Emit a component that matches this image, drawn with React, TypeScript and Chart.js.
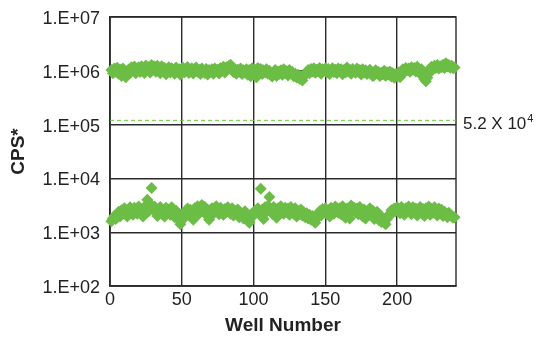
import React, { useEffect, useRef } from 'react';
import { Chart, registerables } from 'chart.js';

Chart.register(...registerables);

// Upper population (CPS), wells 1..240
const highCps = [
  1.04e6, 0.90e6, 1.10e6, 0.96e6, 1.14e6, 0.88e6, 1.06e6, 0.80e6, 1.10e6, 0.86e6,
  0.76e6, 0.88e6, 1.06e6, 0.92e6, 1.16e6, 1.00e6, 1.20e6, 0.90e6, 1.10e6, 1.17e6,
  0.95e6, 1.22e6, 1.04e6, 0.91e6, 1.26e6, 1.08e6, 1.17e6, 0.93e6, 1.28e6, 1.05e6,
  1.20e6, 0.96e6, 1.24e6, 1.10e6, 0.90e6, 1.21e6, 1.00e6, 1.13e6, 0.86e6, 1.08e6,
  1.17e6, 0.93e6, 1.12e6, 1.02e6, 0.88e6, 1.15e6, 0.98e6, 1.07e6, 0.84e6, 1.10e6,
  1.13e6, 0.94e6, 1.08e6, 1.18e6, 0.91e6, 1.04e6, 1.12e6, 0.89e6, 1.07e6, 1.15e6,
  0.96e6, 1.05e6, 0.87e6, 1.10e6, 1.00e6, 0.91e6, 1.08e6, 0.85e6, 1.04e6, 0.95e6,
  1.07e6, 0.88e6, 1.10e6, 0.98e6, 1.05e6, 0.89e6, 1.13e6, 1.00e6, 1.19e6, 0.93e6,
  1.16e6, 1.07e6, 1.24e6, 1.30e6, 1.13e6, 0.95e6, 1.08e6, 0.88e6, 1.05e6, 0.96e6,
  1.10e6, 0.87e6, 1.02e6, 0.93e6, 1.07e6, 0.84e6, 1.03e6, 0.79e6, 1.12e6, 0.95e6,
  1.05e6, 0.76e6, 1.13e6, 0.98e6, 1.08e6, 0.87e6, 1.02e6, 0.93e6, 1.07e6, 0.88e6,
  1.00e6, 0.83e6, 0.78e6, 0.92e6, 1.04e6, 0.80e6, 0.97e6, 0.88e6, 1.02e6, 0.84e6,
  1.07e6, 0.91e6, 0.98e6, 0.82e6, 1.04e6, 0.90e6, 0.95e6, 0.79e6, 0.88e6, 0.75e6,
  0.84e6, 0.71e6, 0.80e6, 0.66e6, 0.78e6, 0.86e6, 0.94e6, 1.04e6, 0.90e6, 1.08e6,
  0.97e6, 1.12e6, 0.92e6, 1.05e6, 0.98e6, 1.13e6, 0.88e6, 1.07e6, 1.00e6, 1.10e6,
  0.93e6, 1.08e6, 0.87e6, 1.04e6, 1.12e6, 0.95e6, 1.05e6, 0.90e6, 1.10e6, 0.98e6,
  1.07e6, 0.86e6, 1.04e6, 0.93e6, 1.15e6, 0.97e6, 1.05e6, 0.88e6, 1.08e6, 1.00e6,
  0.92e6, 1.10e6, 0.95e6, 1.04e6, 0.85e6, 1.07e6, 0.93e6, 1.02e6, 0.87e6, 0.97e6,
  1.05e6, 0.88e6, 0.80e6, 0.83e6, 1.02e6, 0.90e6, 0.95e6, 0.80e6, 0.92e6, 0.86e6,
  1.00e6, 0.81e6, 0.94e6, 0.85e6, 0.97e6, 0.78e6, 0.90e6, 0.74e6, 0.86e6, 0.81e6,
  0.93e6, 0.76e6, 0.98e6, 1.07e6, 0.94e6, 1.13e6, 1.02e6, 1.10e6, 0.96e6, 1.16e6,
  1.05e6, 1.13e6, 0.97e6, 1.19e6, 1.08e6, 0.88e6, 1.07e6, 0.78e6, 0.70e6, 0.64e6,
  0.74e6, 0.88e6, 1.10e6, 1.19e6, 1.07e6, 1.24e6, 1.13e6, 1.28e6, 1.10e6, 1.22e6,
  1.16e6, 1.30e6, 1.13e6, 1.38e6, 1.21e6, 1.28e6, 1.14e6, 1.24e6, 1.11e6, 1.15e6,
];

// Lower population (CPS), wells 1..240
const lowCps = [
  1600, 1800, 2000, 1750, 2150, 2400, 1950, 2550, 2200, 2800,
  2300, 1950, 2650, 2900, 2350, 2100, 2850, 2500, 2200, 3000,
  2650, 2350, 1950, 2900, 3150, 4000, 2450, 3350, 6600, 2700,
  3000, 2350, 2000, 2700, 2950, 2200, 2550, 1950, 2850, 2400,
  2650, 2100, 2900, 2350, 1900, 2500, 1800, 2200, 1400, 2000,
  2250, 1850, 2450, 2750, 2100, 2600, 2300, 1700, 2800, 2500,
  3050, 2200, 2750, 3200, 2450, 2950, 2100, 2600, 1700, 2350,
  2800, 2200, 2650, 3050, 2450, 2150, 2850, 2550, 2100, 2700,
  2350, 2900, 2550, 2200, 2800, 2050, 2500, 2150, 2650, 1900,
  2300, 2100, 1800, 2450, 2000, 1750, 1500, 1900, 2200, 2050,
  2500, 2300, 2800, 2150, 6400, 2650, 1750, 2900, 2400, 3100,
  4500, 2650, 2200, 2950, 2500, 1850, 2800, 2350, 3050, 2550,
  2200, 2850, 2400, 2750, 2100, 2950, 2500, 2200, 2800, 1950,
  2450, 2150, 2650, 2050, 2350, 1900, 2250, 1800, 2100, 1700,
  2000, 1600, 1500, 1850, 2200, 2450, 2050, 2700, 2300, 2800,
  2200, 2550, 1950, 2850, 2400, 2200, 3000, 2600, 2300, 2800,
  2150, 3050, 2500, 1850, 2750, 2300, 1800, 3150, 2550, 2850,
  2350, 2750, 2150, 2950, 2500, 1950, 2650, 1800, 2400, 2200,
  2800, 2050, 2500, 1750, 2200, 2400, 1700, 2000, 1550, 1850,
  1500, 1400, 1750, 2000, 2200, 2550, 2300, 2750, 2450, 2900,
  2600, 2250, 2950, 2650, 2100, 2800, 2450, 3000, 2600, 2150,
  2900, 2400, 2750, 2050, 2550, 2950, 2300, 2700, 2000, 2800,
  2450, 3000, 2100, 2700, 2300, 2900, 2500, 2050, 2750, 2250,
  2600, 2000, 2400, 2200, 1900, 2300, 2100, 1950, 1850, 1900,
];

const thresholdCps = 1.2e5;
const thresholdLabel = '5.2 X 10';
const thresholdExp = '4';

const xTicks = [0, 50, 100, 150, 200];
const yTicks = [1e2, 1e3, 1e4, 1e5, 1e6, 1e7];
const yTickLabels = ['1.E+02', '1.E+03', '1.E+04', '1.E+05', '1.E+06', '1.E+07'];
const xTitle = 'Well Number';
const yTitle = 'CPS*';

const FONT = '"Liberation Sans", Arial, Helvetica, sans-serif';
const GREEN = '#6cbd45';
const DASH_GREEN = '#66cc33';
const GRID = '#2a2a2a';
const TEXT = '#222222';

const framePlugin = {
  id: 'frameAndLabel',
  beforeDatasetsDraw(chart: any) {
    const { ctx, chartArea: a } = chart;
    ctx.save();
    ctx.strokeStyle = GRID;
    ctx.lineWidth = 1.4;
    ctx.strokeRect(a.left, a.top, a.right - a.left, a.bottom - a.top);
    ctx.restore();
  },
  afterDraw(chart: any) {
    const { ctx, chartArea: a, scales } = chart;
    const y = scales.y.getPixelForValue(thresholdCps) + 4;
    const x = a.right + 7;
    ctx.save();
    ctx.fillStyle = TEXT;
    ctx.textAlign = 'left';
    ctx.textBaseline = 'middle';
    ctx.font = `17px ${FONT}`;
    ctx.fillText(thresholdLabel, x, y);
    const w = ctx.measureText(thresholdLabel).width;
    ctx.font = `11px ${FONT}`;
    ctx.fillText(thresholdExp, x + w + 1, y - 5);
    ctx.restore();
  },
};

export default function App() {
  const ref = useRef<HTMLCanvasElement | null>(null);

  useEffect(() => {
    document.body.style.margin = '0';
    const canvas = ref.current;
    if (!canvas) return;
    const xMax = 241;
    const highPts = highCps.map((v, i) => ({ x: i + 1, y: v }));
    const lowPts = lowCps.map((v, i) => ({ x: i + 1, y: v }));
    const chart = new Chart(canvas, {
      type: 'scatter',
      data: {
        datasets: [
          {
            label: 'high',
            data: highPts,
            pointStyle: 'rectRot',
            pointRadius: 6,
            pointBorderWidth: 0,
            backgroundColor: GREEN,
            borderColor: GREEN,
            clip: false,
          } as any,
          {
            label: 'low',
            data: lowPts,
            pointStyle: 'rectRot',
            pointRadius: 6,
            pointBorderWidth: 0,
            backgroundColor: GREEN,
            borderColor: GREEN,
            clip: false,
          } as any,
          {
            type: 'line',
            label: 'threshold',
            data: [
              { x: 0, y: thresholdCps },
              { x: xMax, y: thresholdCps },
            ],
            borderColor: DASH_GREEN,
            borderWidth: 1,
            borderDash: [4, 3],
            pointRadius: 0,
            showLine: true,
            fill: false,
          } as any,
        ],
      },
      options: {
        responsive: false,
        animation: false,
        devicePixelRatio: 1,
        layout: { padding: { top: 17, right: 82, left: 0, bottom: 0 } },
        plugins: { legend: { display: false }, tooltip: { enabled: false } },
        scales: {
          x: {
            type: 'linear',
            min: 0,
            max: xMax,
            afterBuildTicks: (s: any) => {
              s.ticks = xTicks.map((v) => ({ value: v }));
            },
            afterFit: (s: any) => {
              s.height = 51;
              s.paddingLeft = 0;
              s.paddingRight = 0;
            },
            grid: { color: GRID, lineWidth: 1.4, drawTicks: false },
            border: { display: true, color: GRID, width: 1.4 },
            ticks: {
              color: TEXT,
              font: { family: FONT, size: 18 },
              padding: 3,
              maxRotation: 0,
              autoSkip: false,
            },
            title: {
              display: true,
              text: xTitle,
              color: TEXT,
              font: { family: FONT, size: 19, weight: 'bold' },
              padding: { top: 0, bottom: 0 },
            },
          },
          y: {
            type: 'logarithmic',
            min: 1e2,
            max: 1e7,
            afterBuildTicks: (s: any) => {
              s.ticks = yTicks.map((v) => ({ value: v }));
            },
            afterFit: (s: any) => {
              s.width = 110;
              s.paddingTop = 0;
              s.paddingBottom = 0;
            },
            grid: { color: GRID, lineWidth: 1.4, drawTicks: false },
            border: { display: true, color: GRID, width: 1.4 },
            ticks: {
              color: TEXT,
              font: { family: FONT, size: 18 },
              padding: 10,
              autoSkip: false,
              labelOffset: 2,
              callback: (_v: any, i: number) => yTickLabels[i],
            },
            title: {
              display: true,
              text: yTitle,
              color: TEXT,
              font: { family: FONT, size: 19, weight: 'bold' },
              padding: { top: 7, bottom: 0 },
            },
          },
        },
      } as any,
      plugins: [framePlugin],
    });
    return () => chart.destroy();
  }, []);

  return (
    <div style={{ width: 538, height: 337 }}>
      <canvas ref={ref} width={538} height={337} />
    </div>
  );
}
